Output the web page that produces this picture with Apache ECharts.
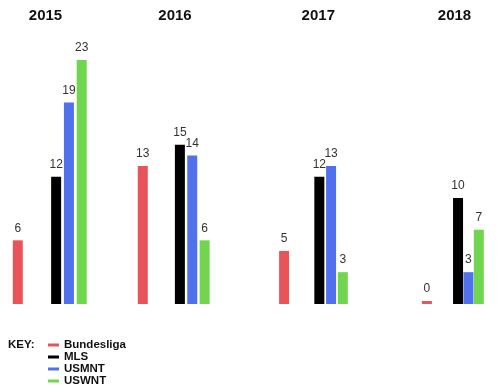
<!DOCTYPE html>
<html>
<head>
<meta charset="utf-8">
<script src="https://cdn.jsdelivr.net/npm/echarts@6/dist/echarts.min.js"></script>
<style>html,body{margin:0;padding:0;background:#fff}#c{width:500px;height:388px}</style>
</head>
<body>
<div id="c"></div>
<script>
var years = ['2015', '2016', '2017', '2018'];
var leagues = ['Bundesliga', 'MLS', 'USMNT', 'USWNT'];
var bundesliga = [6, 13, 5, 0];
var mls = [12, 15, 12, 10];
var usmnt = [19, 14, 13, 3];
var uswnt = [23, 6, 3, 7];
// slot of each league on a year's category axis (blank slots give the gap after Bundesliga)
var slots = ['Bundesliga', 's1', 's2', 'MLS', 'USMNT', 'USWNT'];

var values = [bundesliga, mls, usmnt, uswnt];
var colors = ['#e9545a', '#000000', '#5070ee', '#72d550'];

// layout of each year's panel (pixels)
var panels = [
  {left: 11.4, width: 76.7, title: 45.5},
  {left: 136.6, width: 74.2, title: 175},
  {left: 278.2, width: 70.5, title: 318.3},
  {left: 421.7, width: 62.3, title: 454.5}
];

var grids = [], xAxes = [], yAxes = [], series = [], titles = [];
years.forEach(function (y, g) {
  var p = panels[g];
  grids.push({left: p.left, width: p.width, top: 60, bottom: 84, containLabel: false});
  xAxes.push({type: 'category', gridIndex: g, data: slots, show: false, boundaryGap: true});
  yAxes.push({type: 'value', gridIndex: g, min: 0, max: 23, show: false});
  titles.push({
    text: y, left: p.title, top: 8.5, padding: 0, textAlign: 'center',
    textStyle: {fontFamily: 'Liberation Sans', fontWeight: 'bold', fontSize: 15, color: '#111'}
  });
  leagues.forEach(function (name, s) {
    var data = slots.map(function (slot) { return slot === name ? values[s][g] : '-'; });
    series.push({
      type: 'bar', name: name, xAxisIndex: g, yAxisIndex: g,
      data: data, barWidth: 10, barGap: '-100%', barMinHeight: 3,
      itemStyle: {color: colors[s]},
      label: {show: true, position: 'top', distance: 6,
        fontFamily: 'Liberation Sans', fontSize: 12, color: '#333'},
      emphasis: {disabled: true}
    });
  });
});

var chart = echarts.init(document.getElementById('c'), null, {renderer: 'canvas'});
chart.setOption({
  animation: false,
  title: titles,
  grid: grids,
  xAxis: xAxes,
  yAxis: yAxes,
  legend: {
    data: leagues, orient: 'vertical', left: 48, top: 339, height: 49, padding: 0,
    icon: 'rect', itemWidth: 11, itemHeight: 3, itemGap: 0,
    selectedMode: false,
    textStyle: {fontFamily: 'Liberation Sans', fontWeight: 'bold', fontSize: 11.5, color: '#111', lineHeight: 12}
  },
  graphic: [{
    type: 'text', left: 8, top: 339,
    style: {text: 'KEY:', font: 'bold 11.5px "Liberation Sans"', fill: '#111'}
  }],
  series: series
});
</script>
</body>
</html>
